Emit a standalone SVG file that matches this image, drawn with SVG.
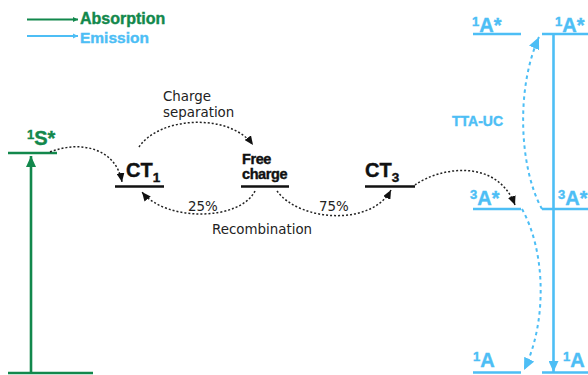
<svg xmlns="http://www.w3.org/2000/svg" width="588" height="375" viewBox="0 0 588 375">
<defs>
<style>
.g{stroke:#12884C;stroke-width:2.6;fill:none}
.b{stroke:#4DBEF5;stroke-width:2.6;fill:none}
.k{stroke:#111;stroke-width:2.6;fill:none}
.dot{stroke:#222;stroke-width:1.5;stroke-dasharray:2 2;fill:none;marker-end:url(#ak)}
.bd{stroke:#4DBEF5;stroke-width:2;stroke-dasharray:3.5 3.5;fill:none;marker-end:url(#ab)}
.lb{font-family:"Liberation Sans",Arial,sans-serif;font-weight:bold;stroke-width:0.4}
.lr{font-family:"DejaVu Sans",Verdana,sans-serif;font-size:13.4px;fill:#222}
.gt{fill:#12884C;stroke:#12884C}
.bt{fill:#4DBEF5;stroke:#4DBEF5}
.kt{fill:#111;stroke:#111}
</style>
<marker id="ak" markerUnits="userSpaceOnUse" markerWidth="10" markerHeight="8" refX="9" refY="4" orient="auto"><path d="M0,0 L9,4 L0,8 z" fill="#111"/></marker>
<marker id="ab" markerUnits="userSpaceOnUse" markerWidth="13" markerHeight="11" refX="12" refY="5.5" orient="auto"><path d="M0,0 L12,5.5 L0,11 z" fill="#4DBEF5"/></marker>
<marker id="ag" markerUnits="userSpaceOnUse" markerWidth="12" markerHeight="10" refX="11" refY="5" orient="auto"><path d="M0,0 L11,5 L0,10 z" fill="#12884C"/></marker>
<marker id="abs" markerUnits="userSpaceOnUse" markerWidth="12" markerHeight="10" refX="11" refY="5" orient="auto"><path d="M0,0 L11,5 L0,10 z" fill="#4DBEF5"/></marker>
<marker id="lg" markerUnits="userSpaceOnUse" markerWidth="6" markerHeight="6" refX="5" refY="3" orient="auto"><path d="M0,0.5 L5,3 L0,5.5 z" fill="#12884C"/></marker>
<marker id="lbm" markerUnits="userSpaceOnUse" markerWidth="6" markerHeight="6" refX="5" refY="3" orient="auto"><path d="M0,0.5 L5,3 L0,5.5 z" fill="#4DBEF5"/></marker>
</defs>
<rect width="588" height="375" fill="#fff"/>

<g id="legend">
<line x1="27" y1="19.5" x2="78" y2="19.5" stroke="#12884C" stroke-width="2" marker-end="url(#lg)"/>
<text x="80" y="24" class="lb gt" font-size="16">Absorption</text>
<line x1="27" y1="36" x2="78" y2="36" stroke="#4DBEF5" stroke-width="2" marker-end="url(#lbm)"/>
<text x="80" y="42.5" class="lb bt" font-size="15.5">Emission</text>
</g>

<g id="S1">
<line class="g" x1="8" y1="153" x2="57" y2="153"/>
<text x="27" y="145" class="lb gt" font-size="20"><tspan font-size="13" dy="-6">1</tspan><tspan dy="6">S*</tspan></text>
</g>
<g id="S0">
<line class="g" x1="8" y1="373" x2="93" y2="373"/>
</g>

<g id="CT1">
<line class="k" x1="115" y1="186.5" x2="164" y2="186.5"/>
<text x="126" y="177" class="lb kt" font-size="20">CT<tspan font-size="13.5" dy="5">1</tspan></text>
</g>
<g id="FreeCharge">
<line class="k" x1="241" y1="186.5" x2="289" y2="186.5"/>
<text x="242" y="164" class="lb kt" font-size="14.5" letter-spacing="-0.4">Free</text>
<text x="242" y="178.5" class="lb kt" font-size="14.5" letter-spacing="-0.4">charge</text>
</g>
<g id="CT3">
<line class="k" x1="365" y1="186.5" x2="415" y2="186.5"/>
<text x="365" y="177" class="lb kt" font-size="20">CT<tspan font-size="13.5" dy="5">3</tspan></text>
</g>

<g id="A1star_left">
<line class="b" x1="473" y1="34" x2="521" y2="34"/>
<text x="472" y="31.5" class="lb bt" font-size="20"><tspan font-size="13" dy="-6">1</tspan><tspan dy="6">A*</tspan></text>
</g>
<g id="A1star_right">
<line class="b" x1="542" y1="34" x2="588" y2="34"/>
<text x="555" y="31.5" class="lb bt" font-size="20"><tspan font-size="13" dy="-6">1</tspan><tspan dy="6">A*</tspan></text>
</g>
<g id="A3star_left">
<line class="b" x1="473" y1="209" x2="521" y2="209"/>
<text x="470" y="205" class="lb bt" font-size="20"><tspan font-size="13" dy="-6">3</tspan><tspan dy="6">A*</tspan></text>
</g>
<g id="A3star_right">
<line class="b" x1="542" y1="209" x2="588" y2="209"/>
<text x="558" y="205" class="lb bt" font-size="20"><tspan font-size="13" dy="-6">3</tspan><tspan dy="6">A*</tspan></text>
</g>
<g id="A1_left">
<line class="b" x1="473" y1="372.5" x2="521" y2="372.5"/>
<text x="473" y="367" class="lb bt" font-size="20"><tspan font-size="13" dy="-6">1</tspan><tspan dy="6">A</tspan></text>
</g>
<g id="A1_right">
<line class="b" x1="542" y1="372.5" x2="588" y2="372.5"/>
<text x="563" y="367" class="lb bt" font-size="20"><tspan font-size="13" dy="-6">1</tspan><tspan dy="6">A</tspan></text>
</g>

<g id="connectors">
<line x1="31" y1="372" x2="31" y2="156" stroke="#12884C" stroke-width="2.6" marker-end="url(#ag)"/>
<line x1="553.5" y1="35" x2="553.5" y2="372" stroke="#4DBEF5" stroke-width="2.6" marker-end="url(#abs)"/>
<path class="dot" d="M50,152 C80,140 116,148 122,182"/>
<path class="dot" d="M139,147 C160,116 230,113 253,145"/>
<path class="dot" d="M255,191 C240,221 166,222 142,192"/>
<path class="dot" d="M277,191 C300,222 372,226 391,190"/>
<path class="dot" d="M415,185 C440,167 497,158 515,205"/>
<path class="bd" d="M542,209 C520,170 515,90 539,37"/>
<path class="bd" d="M522,209 C545,250 548,320 524,370"/>
</g>

<g id="labels">
<text x="163" y="101" class="lr">Charge</text>
<text x="163" y="117" class="lr">separation</text>
<text x="188" y="211" class="lr">25%</text>
<text x="319" y="211" class="lr">75%</text>
<text x="212" y="234" class="lr">Recombination</text>
<text x="452" y="126" class="lb bt" font-size="14">TTA-UC</text>
</g>
</svg>
